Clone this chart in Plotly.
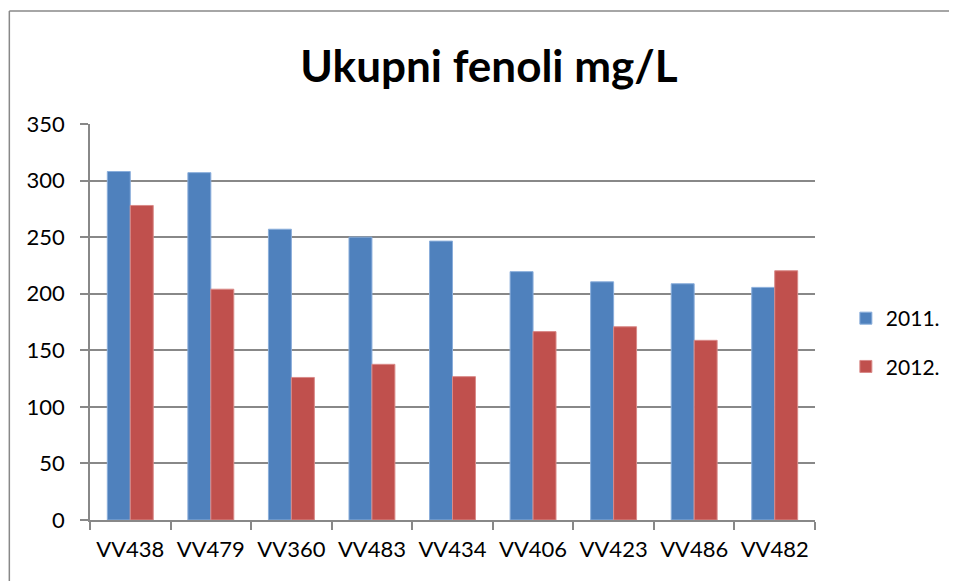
import plotly.graph_objects as go

categories = ["VV438", "VV479", "VV360", "VV483", "VV434", "VV406", "VV423", "VV486", "VV482"]
values_2011 = [308, 307, 257, 250, 246.5, 219.5, 210.5, 208.8, 205.6]
values_2012 = [278, 204, 126, 137.6, 126.7, 166.5, 170.8, 158.8, 220.3]
series_names = ["2011.", "2012."]
y_ticks = [0, 50, 100, 150, 200, 250, 300, 350]

FONT = "Lato"
fig = go.Figure()
fig.add_trace(go.Bar(x=categories, y=values_2011, name=series_names[0], legendgroup="a",
                     marker=dict(color="#4F81BD", line=dict(color="#8AAEDB", width=1))))
fig.add_trace(go.Bar(x=categories, y=values_2012, name=series_names[1], legendgroup="b",
                     marker=dict(color="#C0504D", line=dict(color="#D98A88", width=1))))

# page is offset by ~8px (body margin); coordinates below are figure coords
L, R, T, B = 82, 810, 116, 512
W, H = 949, 573
pw, ph = R - L, B - T

bx0 = (1 - L) / pw
bx1 = (W + 20 - L) / pw
by0 = (B - (H + 20)) / ph
by1 = (B - 3) / ph
border = dict(color="#888888", width=1.5)

fig.update_layout(
    width=W, height=H,
    margin=dict(l=L, r=W - R, t=T, b=H - B),
    paper_bgcolor="white", plot_bgcolor="white",
    barmode="group", bargap=0.43, bargroupgap=0,
    font=dict(family=FONT, size=22, color="black"),
    title=dict(text="<b>Ukupni fenoli mg/L</b>", x=481 / W, xanchor="center",
               y=1 - 59 / H, yanchor="middle", font=dict(family=FONT, size=44, color="black")),
    legend=dict(x=(841 - L) / pw, xanchor="left", y=(B - 290) / ph, yanchor="top",
                font=dict(family=FONT, size=21), tracegroupgap=18, bgcolor="rgba(0,0,0,0)"),
    xaxis=dict(showline=True, linecolor="#888888", linewidth=1.5, ticks="outside",
               tickcolor="#888888", ticklen=8, tickwidth=1.5, tickson="boundaries",
               tickfont=dict(family=FONT, size=22), showgrid=False, ticklabelstandoff=9),
    yaxis=dict(range=[0, 350], tickvals=y_ticks, showline=True, linecolor="#888888",
               linewidth=1.5, ticks="outside", tickcolor="#888888", ticklen=8, tickwidth=1.5,
               gridcolor="#888888", gridwidth=1.5, zeroline=False,
               tickfont=dict(family=FONT, size=22), ticklabelstandoff=11),
    shapes=[
        dict(type="line", xref="paper", yref="paper", x0=bx0, x1=bx0, y0=by0, y1=by1,
             line=border, layer="below"),
        dict(type="line", xref="paper", yref="paper", x0=bx0, x1=bx1, y0=by1, y1=by1,
             line=border, layer="below"),
    ],
)
fig.write_html("out.html")
